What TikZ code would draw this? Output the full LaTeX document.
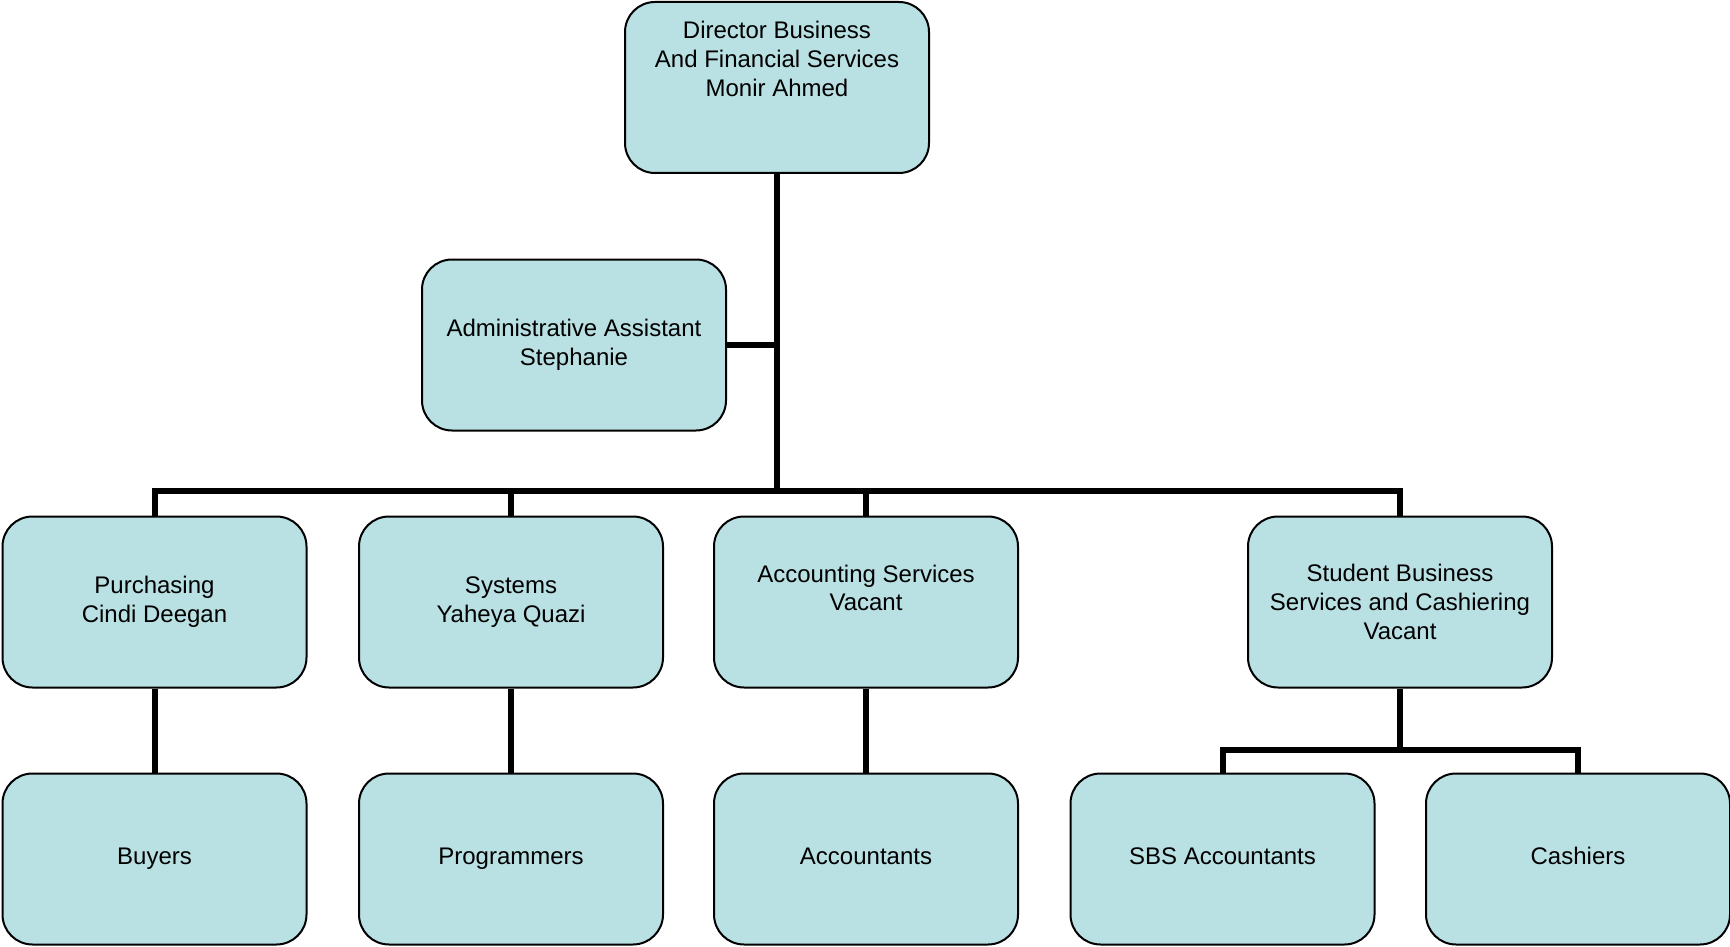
\documentclass[tikz,border=0pt]{standalone}
\usepackage{fontspec}
\setmainfont{Liberation Sans}
\usetikzlibrary{positioning}
\definecolor{boxblue}{RGB}{185,224,227}

\begin{document}
\begin{tikzpicture}[x=1pt,y=1pt,
    box/.style={draw,line width=2pt,rounded corners=30pt,fill=boxblue,
      minimum width=304pt,minimum height=171pt,inner sep=0pt,align=center,
      font=\fontsize{24}{28.7}\selectfont},%
    link/.style={line width=6pt,line join=miter}]
    \useasboundingbox (0,0) rectangle (1730,-947);
    \node[box] (dir) at (777,-87.5) {Director Business\\And Financial Services\\Monir Ahmed\\~\\~};
    \node[box] (adm) at (574,-345) {Administrative Assistant\\Stephanie};
    \node[box] (pur) at (154.5,-602) {Purchasing\\Cindi Deegan};
    \node[box] (sys) at (511,-602) {Systems\\Yaheya Quazi};
    \node[box] (acc) at (866,-602) {Accounting Services\\Vacant\\~};
    \node[box] (stu) at (1400,-602) {Student Business\\Services and Cashiering\\Vacant};
    \node[box] (buy) at (154.5,-859) {\strut Buyers};
    \node[box] (prg) at (511,-859) {\strut Programmers};
    \node[box] (act) at (866,-859) {\strut Accountants};
    \node[box] (sbs) at (1222.5,-859) {\strut SBS Accountants};
    \node[box] (cas) at (1578,-859) {\strut Cashiers};
    \coordinate (bus) at (778,-491);
    \coordinate (sbsbus) at (1400,-750);

    \draw[link] (dir.south) -- (dir.south |- bus);
    \draw[link] (adm.east) -- (adm.east -| dir.south);
    \draw[link] (pur.north) -- (pur.north |- bus) -| (stu.north);
    \draw[link] (sys.north) -- (sys.north |- bus);
    \draw[link] (acc.north) -- (acc.north |- bus);
    \draw[link] (pur.south) -- (buy.north);
    \draw[link] (sys.south) -- (prg.north);
    \draw[link] (acc.south) -- (act.north);
    \draw[link] (stu.south) -- (sbsbus);
    \draw[link] (sbs.north) -- (sbs.north |- sbsbus) -| (cas.north);
\end{tikzpicture}
\end{document}
